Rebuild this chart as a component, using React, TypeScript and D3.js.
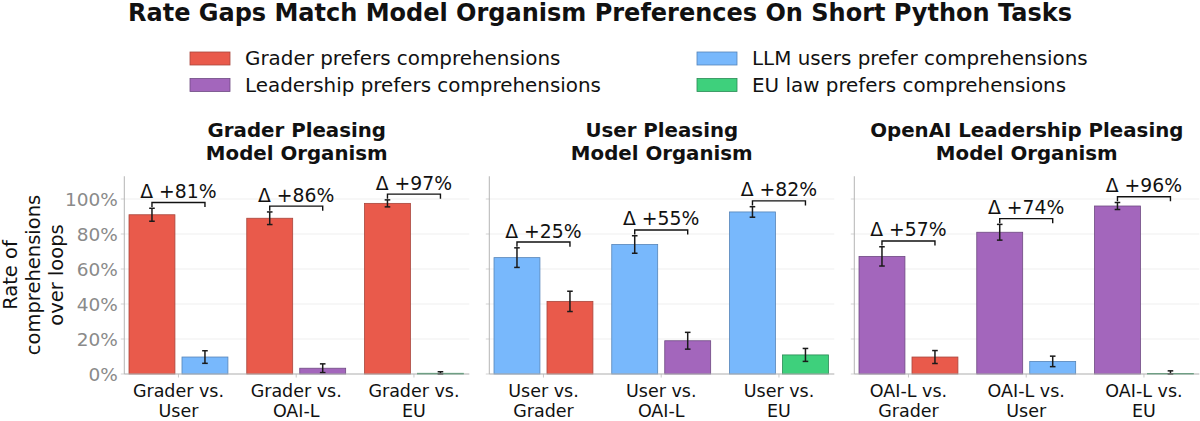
import React from "react";
import * as d3 from "d3";

const chartTitle = "Rate Gaps Match Model Organism Preferences On Short Python Tasks";
const panelTitles = [
  ["Grader Pleasing", "Model Organism"],
  ["User Pleasing", "Model Organism"],
  ["OpenAI Leadership Pleasing", "Model Organism"],
];
const groupLabels = [
  [["Grader vs.", "User"], ["Grader vs.", "OAI-L"], ["Grader vs.", "EU"]],
  [["User vs.", "Grader"], ["User vs.", "OAI-L"], ["User vs.", "EU"]],
  [["OAI-L vs.", "Grader"], ["OAI-L vs.", "User"], ["OAI-L vs.", "EU"]],
];
const primaryValues = [
  [91, 89, 97.5],
  [66.5, 74, 92.6],
  [67.2, 81, 96],
];
const primaryErrors = [
  [3.7, 3.6, 2],
  [5.6, 5, 3],
  [5.5, 4.5, 2],
];
const secondaryValues = [
  [9.7, 3.3, 0.4],
  [41.5, 19, 10.9],
  [9.7, 7.2, 0.3],
];
const secondaryErrors = [
  [3.6, 2.5, 0.9],
  [5.8, 4.8, 3.7],
  [3.7, 3, 1.5],
];
const deltas = [
  [81, 86, 97],
  [25, 55, 82],
  [57, 74, 96],
];
const primarySeries = ["grader", "user", "leadership"];
const secondarySeries = [
  ["user", "leadership", "eu"],
  ["grader", "leadership", "eu"],
  ["grader", "user", "eu"],
];
const legendKeys = ["grader", "leadership", "user", "eu"];
const legendLabels = [
  "Grader prefers comprehensions",
  "Leadership prefers comprehensions",
  "LLM users prefer comprehensions",
  "EU law prefers comprehensions",
];
const yTicks = [0, 20, 40, 60, 80, 100];
const yLabelLines = ["Rate of", "comprehensions", "over loops"];

const colors: Record<string, string> = {
  grader: "#e74c3c",
  user: "#6cb2fc",
  leadership: "#9b59b6",
  eu: "#2ecc71",
};
const edgeColors: Record<string, string> = {
  grader: "#a8463c",
  user: "#5584b8",
  leadership: "#6e4a82",
  eu: "#2a8a55",
};

const FONT = "DejaVu Sans";
const panelLefts = [124.3, 489.3, 854.3];
const panelWidth = 345;
const barW = 0.39;
const off = 0.225;

export default function App() {
  const y = d3.scaleLinear().domain([0, 113]).range([374, 176.25]);
  return (
    <svg
      width={1200}
      height={421}
      style={{ position: "absolute", left: 0, top: 0, background: "#fff" }}
      fontFamily={FONT}
    >
      <rect x={0} y={0} width={1200} height={421} fill="#fff" />
      <text x={600} y={21} textAnchor="middle" fontWeight="bold" fontSize={24} fill="#111">
        {chartTitle}
      </text>
      {/* legend */}
      {legendKeys.map((k, i) => {
        const col = Math.floor(i / 2);
        const row = i % 2;
        const px = col === 0 ? 190 : 697;
        const cy = row === 0 ? 58.5 : 85;
        return (
          <g key={k}>
            <rect x={px} y={cy - 6.5} width={40} height={13} fill={colors[k]} fillOpacity={0.92} stroke={edgeColors[k]} strokeWidth={0.8} />
            <text x={px + 55} y={cy} dominantBaseline="central" fontSize={19.9} fill="#111">
              {legendLabels[i]}
            </text>
          </g>
        );
      })}
      {/* y label */}
      <text transform={`translate(17,275) rotate(-90)`} textAnchor="middle" fontSize={19.5} fill="#111">
        {yLabelLines.map((t, i) => (
          <tspan key={i} x={0} y={i * 23}>
            {t}
          </tspan>
        ))}
      </text>
      {panelLefts.map((left, p) => {
        const x = d3.scaleLinear().domain([-0.46, 2.47]).range([left, left + panelWidth]);
        const cx = left + panelWidth / 2;
        return (
          <g key={p}>
            <text textAnchor="middle" fontWeight="bold" fontSize={19.8} fill="#111">
              <tspan x={cx} y={136.5}>{panelTitles[p][0]}</tspan>
              <tspan x={cx} y={159.5}>{panelTitles[p][1]}</tspan>
            </text>
            {/* grid */}
            {yTicks.map((t) => (
              <g key={t}>
                <line x1={left} x2={left + panelWidth} y1={y(t)} y2={y(t)} stroke="#efefef" strokeWidth={1} />
                <line x1={left - 3.5} x2={left} y1={y(t)} y2={y(t)} stroke="#c8c8c8" strokeWidth={0.8} />
                {p === 0 && (
                  <text x={left - 6.5} y={y(t)} textAnchor="end" dominantBaseline="central" fontSize={18.5} fill="#8a8a8a">
                    {t + "%"}
                  </text>
                )}
              </g>
            ))}
            {[0, 1, 2].map((g) => {
              const c1 = x(g - off);
              const c2 = x(g + off);
              const w = x(barW) - x(0);
              const v1 = primaryValues[p][g];
              const e1 = primaryErrors[p][g];
              const v2 = secondaryValues[p][g];
              const e2 = secondaryErrors[p][g];
              const k1 = primarySeries[p];
              const k2 = secondarySeries[p][g];
              const top = Math.min(y(v1 + e1), y(v2 + e2));
              const by = top - 5.8;
              const errBar = (cxx: number, v: number, e: number) => (
                <g stroke="#1a1a1a" strokeWidth={1.5}>
                  <line x1={cxx} x2={cxx} y1={y(v + e)} y2={y(Math.max(0, v - e))} />
                  <line x1={cxx - 2.8} x2={cxx + 2.8} y1={y(v + e)} y2={y(v + e)} />
                  <line x1={cxx - 2.8} x2={cxx + 2.8} y1={y(Math.max(0, v - e))} y2={y(Math.max(0, v - e))} />
                </g>
              );
              return (
                <g key={g}>
                  <rect x={c1 - w / 2} y={y(v1)} width={w} height={y(0) - y(v1)} fill={colors[k1]} fillOpacity={0.92} stroke={edgeColors[k1]} strokeWidth={0.8} />
                  <rect x={c2 - w / 2} y={y(v2)} width={w} height={y(0) - y(v2)} fill={colors[k2]} fillOpacity={0.92} stroke={edgeColors[k2]} strokeWidth={0.8} />
                  {errBar(c1, v1, e1)}
                  {errBar(c2, v2, e2)}
                  <path d={`M${c1},${by + 4.6}V${by}H${c2}V${by + 4.6}`} fill="none" stroke="#111" strokeWidth={1.4} />
                  <text x={x(g)} y={by - 4.5} textAnchor="middle" fontSize={18.8} fill="#111">
                    {`Δ +${deltas[p][g]}%`}
                  </text>
                  <line x1={x(g)} x2={x(g)} y1={y(0)} y2={y(0) + 3.5} stroke="#bbb" strokeWidth={0.8} />
                  <text textAnchor="middle" fontSize={17.5} fill="#111">
                    <tspan x={x(g)} y={396.5}>{groupLabels[p][g][0]}</tspan>
                    <tspan x={x(g)} y={417}>{groupLabels[p][g][1]}</tspan>
                  </text>
                </g>
              );
            })}
            {/* spines */}
            <line x1={left} x2={left} y1={y(113)} y2={y(0)} stroke="#b5b5b5" strokeWidth={1} />
            <line x1={left} x2={left + panelWidth} y1={y(0)} y2={y(0)} stroke="#b5b5b5" strokeWidth={1} />
          </g>
        );
      })}
    </svg>
  );
}
